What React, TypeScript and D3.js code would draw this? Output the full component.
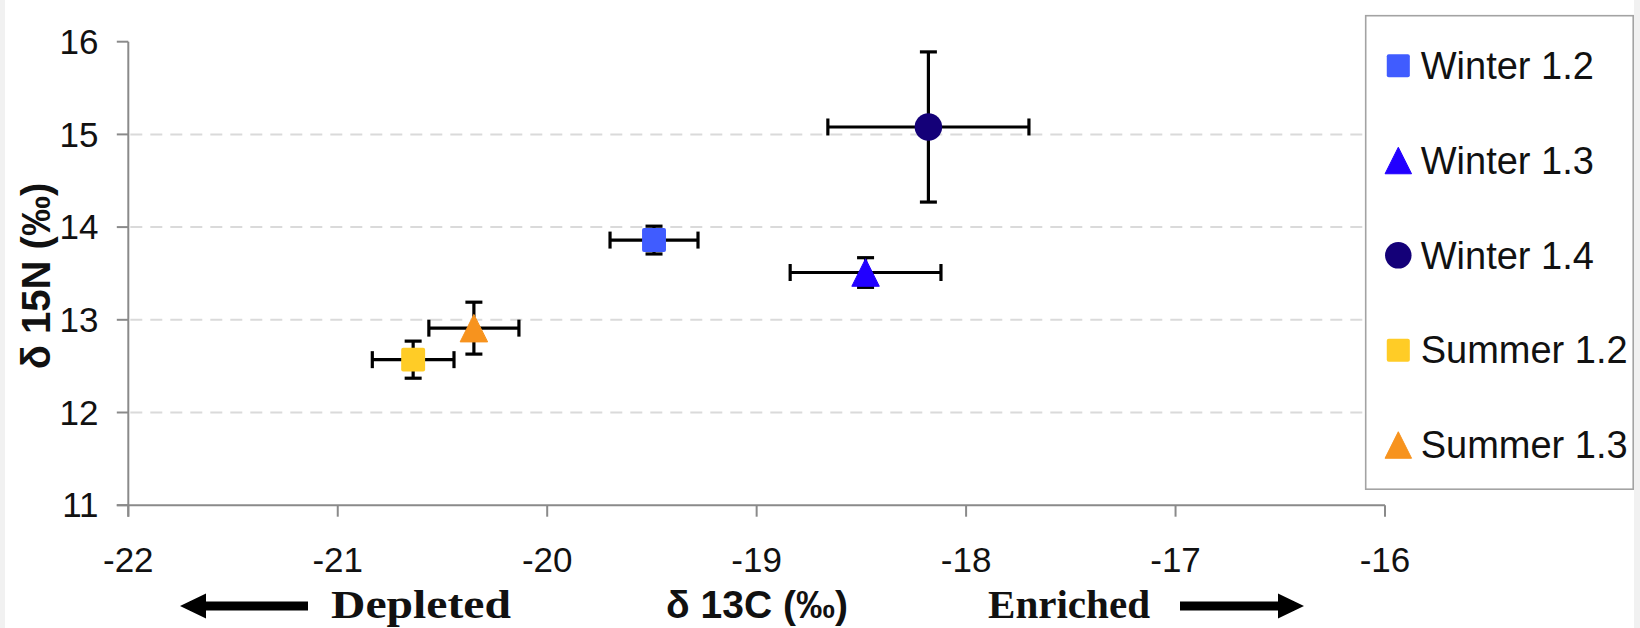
import React from "react";
import { scaleLinear } from "d3";

// series
const categories = ["Winter 1.2", "Winter 1.3", "Winter 1.4", "Summer 1.2", "Summer 1.3"];
const d13C = [-19.49, -18.48, -18.18, -20.64, -20.35];
const d15N = [13.86, 13.51, 15.08, 12.57, 12.91];
const errC = [0.21, 0.36, 0.48, 0.195, 0.215];
const errN = [0.15, 0.16, 0.81, 0.2, 0.28];
const shapes = ["square", "triangle", "circle", "square", "triangle"];
const colors = ["#405CFF", "#2200FF", "#140078", "#FFCC26", "#F7931E"];

const xTicks = [-22, -21, -20, -19, -18, -17, -16];
const yTicks = [11, 12, 13, 14, 15, 16];
const gridTicks = [12, 13, 14, 15];

const W = 1640;
const H = 628;
const sans = "'Liberation Sans', Arial, sans-serif";
const serif = "'Liberation Serif', 'Times New Roman', serif";

function Marker({ shape, cx, cy, fill, size }) {
  if (shape === "square") {
    const s = size * 0.87;
    return <rect x={cx - s / 2} y={cy - s / 2} width={s} height={s} rx={2} fill={fill} />;
  }
  if (shape === "triangle") {
    const w = size;
    const h = size;
    return (
      <path
        d={`M${cx},${cy - h / 2}L${cx + w / 2},${cy + h / 2}L${cx - w / 2},${cy + h / 2}Z`}
        fill={fill}
        strokeLinejoin="round"
        stroke={fill}
        strokeWidth={1}
      />
    );
  }
  return <circle cx={cx} cy={cy} r={size / 2} fill={fill} />;
}

export default function App() {
  const x = scaleLinear().domain([-22, -16]).range([128.3, 1385]);
  const y = scaleLinear().domain([11, 16]).range([505.2, 41.7]);
  const legendY = scaleLinear().domain([0, categories.length - 1]).range([65.7, 445]);
  const cap = 8.5;

  return (
    <svg
      width={W}
      height={H}
      style={{ position: "absolute", left: 0, top: 0, background: "#fff" }}
    >
      {/* faint edges of the scanned figure */}
      <rect x={0} y={0} width={5} height={H} fill="#f1f1f1" />
      <rect x={W - 6} y={0} width={6} height={H} fill="#f1f1f1" />

      {/* gridlines */}
      {gridTicks.map((t) => (
        <line
          key={t}
          x1={x(-22) + 2}
          x2={x(-16)}
          y1={y(t)}
          y2={y(t)}
          stroke="#dadada"
          strokeWidth={2}
          strokeDasharray="12 8"
        />
      ))}

      {/* axes */}
      <g stroke="#8a8a8a" strokeWidth={2}>
        <line x1={x(-22)} x2={x(-22)} y1={y(16)} y2={y(11) + 11.5} />
        <line x1={x(-22) - 11.5} x2={x(-16)} y1={y(11)} y2={y(11)} />
        {yTicks.map((t) => (
          <line key={t} x1={x(-22) - 11.5} x2={x(-22)} y1={y(t)} y2={y(t)} />
        ))}
        {xTicks.map((t) => (
          <line key={t} x1={x(t)} x2={x(t)} y1={y(11)} y2={y(11) + 11.5} />
        ))}
      </g>

      {yTicks.map((t) => (
        <text
          key={t}
          x={98.5}
          y={y(t)}
          dy="0.35em"
          textAnchor="end"
          fontFamily={sans}
          fontSize={35}
          fill="#111"
        >
          {t}
        </text>
      ))}
      {xTicks.map((t) => (
        <text
          key={t}
          x={x(t)}
          y={572}
          textAnchor="middle"
          fontFamily={sans}
          fontSize={35}
          fill="#111"
        >
          {t}
        </text>
      ))}

      {/* axis titles */}
      <text
        transform={`translate(36,${276}) rotate(-90)`}
        textAnchor="middle"
        dy="0.36em"
        fontFamily={sans}
        fontWeight="bold"
        fontSize={40}
        fill="#111"
      >
        δ 15N (‰)
      </text>
      <text
        x={757}
        y={618}
        textAnchor="middle"
        fontFamily={sans}
        fontWeight="bold"
        fontSize={39}
        fill="#111"
      >
        δ 13C (‰)
      </text>

      {/* depleted / enriched annotations */}
      <text
        x={421}
        y={618}
        textAnchor="middle"
        fontFamily={serif}
        fontWeight="bold"
        fontSize={41}
        textLength={180}
        lengthAdjust="spacingAndGlyphs"
        fill="#111"
      >
        Depleted
      </text>
      <text
        x={1069}
        y={618}
        textAnchor="middle"
        fontFamily={serif}
        fontWeight="bold"
        fontSize={41}
        textLength={162}
        lengthAdjust="spacingAndGlyphs"
        fill="#111"
      >
        Enriched
      </text>
      <path d="M180,606L206,593.5L206,601.5L308,601.5L308,610.5L206,610.5L206,618.5Z" fill="#000" />
      <path d="M1304,606L1278,593.5L1278,601.5L1180,601.5L1180,610.5L1278,610.5L1278,618.5Z" fill="#000" />

      {/* error bars */}
      <g stroke="#000" strokeWidth={3.2}>
        {categories.map((c, i) => {
          const cx = x(d13C[i]);
          const cy = y(d15N[i]);
          const x0 = x(d13C[i] - errC[i]);
          const x1 = x(d13C[i] + errC[i]);
          const y0 = y(d15N[i] + errN[i]);
          const y1 = y(d15N[i] - errN[i]);
          return (
            <g key={c}>
              <line x1={x0} x2={x1} y1={cy} y2={cy} />
              <line x1={x0} x2={x0} y1={cy - cap} y2={cy + cap} />
              <line x1={x1} x2={x1} y1={cy - cap} y2={cy + cap} />
              <line x1={cx} x2={cx} y1={y0} y2={y1} />
              <line x1={cx - cap} x2={cx + cap} y1={y0} y2={y0} />
              <line x1={cx - cap} x2={cx + cap} y1={y1} y2={y1} />
            </g>
          );
        })}
      </g>

      {/* markers */}
      {categories.map((c, i) => (
        <Marker key={c} shape={shapes[i]} cx={x(d13C[i])} cy={y(d15N[i])} fill={colors[i]} size={27.5} />
      ))}

      {/* legend */}
      <rect x={1365.7} y={15.7} width={267.5} height={473.5} fill="#fff" stroke="#a3a3a3" strokeWidth={1.6} />
      {categories.map((c, i) => (
        <g key={c}>
          <Marker shape={shapes[i]} cx={1398.3} cy={legendY(i)} fill={colors[i]} size={26.5} />
          <text x={1420.7} y={legendY(i)} dy="0.35em" fontFamily={sans} fontSize={38} fill="#111">
            {c}
          </text>
        </g>
      ))}
    </svg>
  );
}
